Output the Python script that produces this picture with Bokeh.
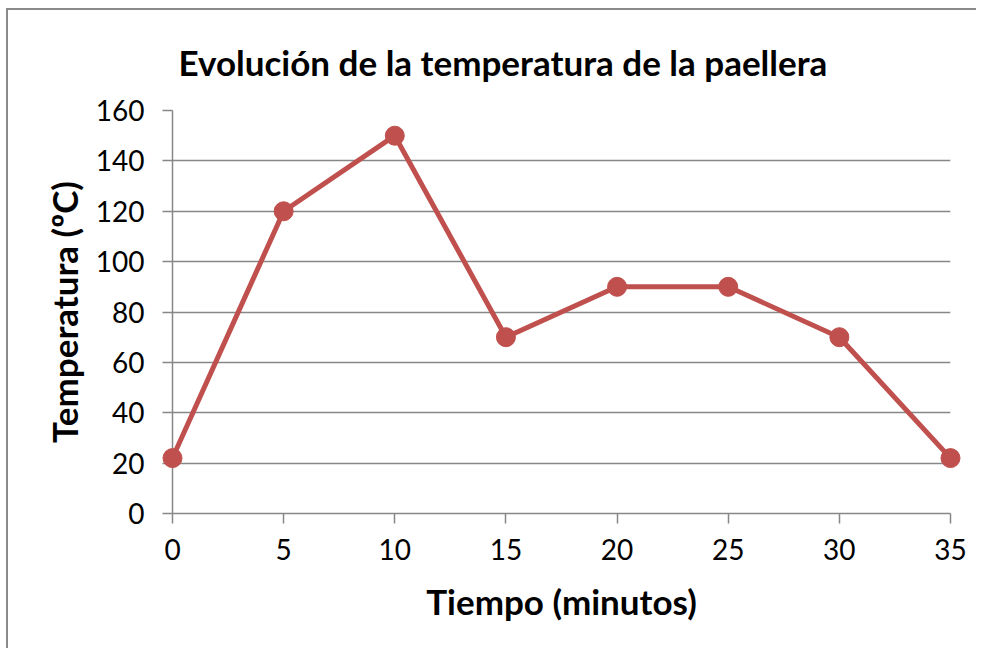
from bokeh.plotting import figure
from bokeh.models import Range1d, FixedTicker
from bokeh.embed import file_html
from bokeh.resources import INLINE

# Data
tiempo = [0, 5, 10, 15, 20, 25, 30, 35]
temperatura = [22, 120, 150, 70, 90, 90, 70, 22]
x_ticks = [0, 5, 10, 15, 20, 25, 30, 35]
y_ticks = [0, 20, 40, 60, 80, 100, 120, 140, 160]

title_text = "Evolución de la temperatura de la paellera"
x_title = "Tiempo (minutos)"
y_title = "Temperatura (ºC)"

RED = "#C0504D"
GRAY = "#878787"
FONT = "Lato"

W, H = 970, 640
p = figure(width=W, height=H, output_backend="svg", toolbar_location=None,
           x_range=Range1d(x_ticks[0], x_ticks[-1]), y_range=Range1d(y_ticks[0], y_ticks[-1]),
           min_border_left=164, min_border_right=28, min_border_top=100,
           min_border_bottom=137)
p.styles = {"margin-left": "6px", "margin-top": "8px",
            "border-left": "2px solid #8a8a8a", "border-top": "2px solid #8a8a8a"}
p.outline_line_color = None
p.background_fill_color = "white"
p.border_fill_color = "white"

p.title.text = title_text
p.title.align = "left"
p.title.offset = 6
p.title.text_font = FONT
p.title.text_font_size = "35px"
p.title.text_font_style = "bold"
p.title.text_color = "black"
p.title.standoff = 56

p.xgrid.visible = False
p.ygrid.grid_line_color = GRAY
p.ygrid.grid_line_width = 1.3

for ax in (p.xaxis[0], p.yaxis[0]):
    ax.axis_line_color = GRAY
    ax.axis_line_width = 1.5
    ax.major_tick_line_color = GRAY
    ax.major_tick_line_width = 1.5
    ax.major_tick_out = 10
    ax.major_tick_in = 0
    ax.minor_tick_line_color = None
    ax.major_label_text_font = FONT
    ax.major_label_text_font_size = "28px"
    ax.major_label_text_color = "black"
    ax.axis_label_text_font = FONT
    ax.axis_label_text_font_size = "35px"
    ax.axis_label_text_font_style = "bold"
    ax.axis_label_text_color = "black"

p.xaxis[0].ticker = FixedTicker(ticks=x_ticks)
p.xaxis[0].axis_label = x_title
p.xaxis[0].major_label_standoff = 15
p.xaxis[0].axis_label_standoff = 17

p.yaxis[0].ticker = FixedTicker(ticks=y_ticks)
p.yaxis[0].axis_label = y_title
p.yaxis[0].major_label_standoff = 18
p.yaxis[0].axis_label_standoff = 8

p.line(tiempo, temperatura, line_color=RED, line_width=5, level="overlay")
p.scatter(tiempo, temperatura, marker="circle", size=19, fill_color=RED,
          line_color=RED, level="overlay")

open("out.html", "w").write(file_html(p, INLINE))
